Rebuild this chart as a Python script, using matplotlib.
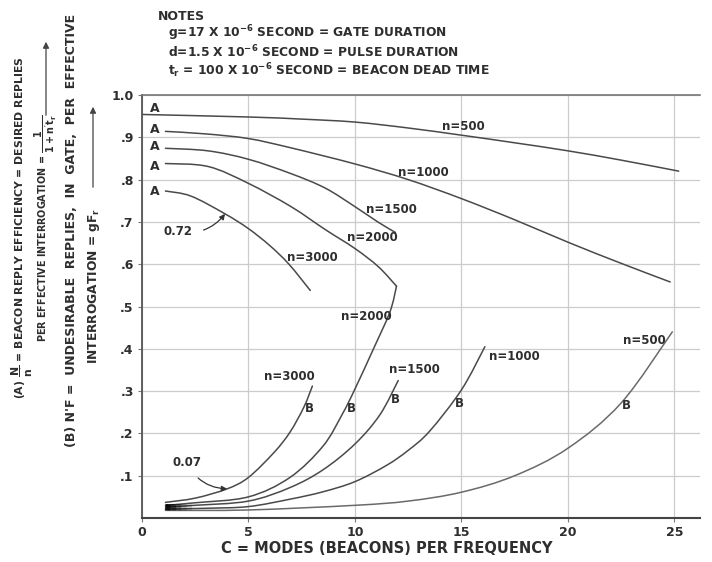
import numpy as np
import matplotlib
matplotlib.use("Agg")
import matplotlib.pyplot as plt
from matplotlib.path import Path
from matplotlib.patches import PathPatch, FancyArrowPatch

plt.rcParams['font.family'] = ['DejaVu Sans']
plt.rcParams['mathtext.fontset'] = 'custom'
plt.rcParams['mathtext.rm'] = 'DejaVu Sans:bold'
plt.rcParams['mathtext.it'] = 'DejaVu Sans:bold'
plt.rcParams['mathtext.bf'] = 'DejaVu Sans:bold'
plt.rcParams['mathtext.sf'] = 'DejaVu Sans:bold'

# ---------------- data ----------------
# (A) beacon reply efficiency curves
a500_x = [0.0, 5.0, 7.5, 10.0, 12.5, 15.0, 17.5, 20.0, 22.5, 25.2]
a500_y = [0.954, 0.948, 0.943, 0.936, 0.922, 0.905, 0.887, 0.868, 0.846, 0.820]
a1000_x = [1.1, 3.0, 5.0, 7.0, 10.0, 12.5, 15.0, 17.5, 20.0, 22.5, 24.8]
a1000_y = [0.914, 0.908, 0.897, 0.875, 0.837, 0.800, 0.755, 0.705, 0.652, 0.602, 0.558]
a1500_x = [1.1, 3.1, 5.0, 7.0, 8.6, 10.0, 11.1, 11.9]
a1500_y = [0.874, 0.868, 0.848, 0.814, 0.780, 0.736, 0.699, 0.675]
a2000_x = [1.1, 3.1, 5.0, 7.0, 8.6, 10.0, 11.1, 11.95]
a2000_y = [0.838, 0.831, 0.791, 0.736, 0.682, 0.637, 0.594, 0.548]
a3000_x = [1.1, 2.3, 3.9, 5.0, 6.0, 6.9, 7.9]
a3000_y = [0.773, 0.761, 0.719, 0.684, 0.644, 0.600, 0.538]

# (B) undesirable replies curves
b500_x = [1.1, 5.0, 10.0, 12.5, 15.0, 17.5, 20.0, 22.5, 24.9]
b500_y = [0.018, 0.019, 0.030, 0.040, 0.061, 0.100, 0.165, 0.272, 0.440]
b1000_x = [1.1, 3.0, 5.0, 7.0, 8.5, 10.0, 11.5, 12.5, 13.5, 15.0, 16.1]
b1000_y = [0.021, 0.023, 0.027, 0.045, 0.062, 0.086, 0.125, 0.160, 0.205, 0.303, 0.405]
b1500_x = [1.1, 2.5, 5.0, 6.95, 8.5, 10.0, 11.17, 12.03]
b1500_y = [0.026, 0.030, 0.040, 0.072, 0.114, 0.175, 0.244, 0.325]
b2000_x = [1.1, 2.5, 5.0, 6.95, 8.5, 9.4, 10.0, 10.86, 11.64, 11.95]
b2000_y = [0.030, 0.036, 0.050, 0.096, 0.170, 0.245, 0.305, 0.399, 0.487, 0.548]
b3000_x = [1.1, 2.5, 4.0, 5.0, 6.2, 6.95, 7.6, 8.0]
b3000_y = [0.037, 0.047, 0.069, 0.096, 0.155, 0.203, 0.262, 0.312]

x_ticks = [0, 5, 10, 15, 20, 25]
x_tick_labels = ["0", "5", "10", "15", "20", "25"]
y_ticks = [0.1, 0.2, 0.3, 0.4, 0.5, 0.6, 0.7, 0.8, 0.9, 1.0]
y_tick_labels = [".1", ".2", ".3", ".4", ".5", ".6", ".7", ".8", ".9", "1.0"]

a_labels = ["n=500", "n=1000", "n=1500", "n=2000", "n=3000"]
a_label_x = [15.1, 13.2, 11.7, 10.8, 8.0]
a_label_y = [0.925, 0.817, 0.730, 0.664, 0.617]
a_letter_y = [0.969, 0.918, 0.879, 0.831, 0.771]

b_labels = ["n=3000", "n=2000", "n=1500", "n=1000", "n=500"]
b_label_x = [6.9, 10.55, 12.8, 17.5, 23.6]
b_label_y = [0.334, 0.476, 0.350, 0.381, 0.419]
b_letter_x = [7.86, 9.84, 11.9, 14.9, 22.75]
b_letter_y = [0.258, 0.258, 0.280, 0.270, 0.265]

notes = ["NOTES",
         r"g=17 X 10$^{-6}$ SECOND = GATE DURATION",
         r"d=1.5 X 10$^{-6}$ SECOND = PULSE DURATION",
         r"$t_r$ = 100 X 10$^{-6}$ SECOND = BEACON DEAD TIME"]

# ---------------- figure ----------------
W, H = 712, 562
fig = plt.figure(figsize=(W / 100, H / 100), dpi=100)
fig.patch.set_facecolor("white")
ax = fig.add_axes([142 / W, 44 / H, 558 / W, 423 / H])
ax.set_xlim(0, 26.2)
ax.set_ylim(0, 1.0)

TXT = "#2e2e2e"
LINE = "#4a4a4a"
BOLD = dict(fontweight="bold", color=TXT)

ax.set_xticks(x_ticks)
ax.set_xticklabels(x_tick_labels, fontsize=9, **BOLD)
ax.set_yticks(y_ticks)
ax.set_yticklabels(y_tick_labels, fontsize=9, **BOLD)
ax.tick_params(axis="both", length=3, width=0.8, color="#777777", pad=3)
ax.grid(True, color="#cccccc", lw=0.9)
ax.set_axisbelow(True)
ax.spines["right"].set_visible(False)
ax.spines["top"].set_color("#777777")
ax.spines["top"].set_linewidth(1.2)
ax.spines["left"].set_color("#555555")
ax.spines["left"].set_linewidth(1.3)
ax.spines["bottom"].set_color("#444444")
ax.spines["bottom"].set_linewidth(1.5)


def smooth_curve(xs, ys, color, lw=1.1):
    """Draw a smooth (Catmull-Rom / Bezier) curve through the data points."""
    P = np.column_stack([xs, ys]).astype(float)
    n = len(P)
    verts = [P[0]]
    codes = [Path.MOVETO]
    for i in range(n - 1):
        p0 = P[i - 1] if i > 0 else P[i]
        p1, p2 = P[i], P[i + 1]
        p3 = P[i + 2] if i + 2 < n else P[i + 1]
        verts += [p1 + (p2 - p0) / 6.0, p2 - (p3 - p1) / 6.0, p2]
        codes += [Path.CURVE4] * 3
    ax.add_patch(PathPatch(Path(verts, codes), fill=False, edgecolor=color, lw=lw,
                           capstyle="round", joinstyle="round"))


a_curves = [(a500_x, a500_y), (a1000_x, a1000_y), (a1500_x, a1500_y),
            (a2000_x, a2000_y), (a3000_x, a3000_y)]
b_curves = [(b500_x, b500_y), (b1000_x, b1000_y), (b1500_x, b1500_y),
            (b2000_x, b2000_y), (b3000_x, b3000_y)]
for xs, ys in a_curves:
    smooth_curve(xs, ys, LINE)
for i, (xs, ys) in enumerate(b_curves):
    smooth_curve(xs, ys, "#6a6a6a" if i == 0 else LINE)

# dark smudge where the B curves converge
for k, alpha in enumerate([0.9, 0.7, 0.5, 0.3, 0.15]):
    x0 = b2000_x[0] + k * 0.25
    ax.plot([x0, x0 + 0.25], [0.026, 0.025], color="black", lw=4.5, alpha=alpha,
            solid_capstyle="butt")

for lab, lx, ly in zip(a_labels, a_label_x, a_label_y):
    ax.text(lx, ly, lab, fontsize=8.5, ha="center", va="center", **BOLD)
for ly in a_letter_y:
    ax.text(0.6, ly, "A", fontsize=9, ha="center", va="center", **BOLD)
for lab, lx, ly in zip(b_labels, b_label_x, b_label_y):
    ax.text(lx, ly, lab, fontsize=8.5, ha="center", va="center", **BOLD)
for lx, ly in zip(b_letter_x, b_letter_y):
    ax.text(lx, ly, "B", fontsize=8.5, ha="center", va="center", **BOLD)

ax.annotate("0.07", xy=(b3000_x[2], b3000_y[2]), xytext=(2.1, 0.131),
            fontsize=8.5, ha="center", va="center", **BOLD,
            arrowprops=dict(arrowstyle="-|>", color="#333333", lw=0.9,
                            connectionstyle="arc3,rad=0.3", shrinkA=6, shrinkB=0,
                            mutation_scale=8))
ax.annotate("0.72", xy=(a3000_x[2], a3000_y[2]), xytext=(1.7, 0.677),
            fontsize=8.5, ha="center", va="center", **BOLD,
            arrowprops=dict(arrowstyle="-|>", color="#333333", lw=0.9,
                            connectionstyle="arc3,rad=0.3", shrinkA=6, shrinkB=0,
                            mutation_scale=8))

ax.set_xlabel("C = MODES (BEACONS) PER FREQUENCY", fontsize=10.5, **BOLD)
ax.xaxis.set_label_coords((387 - 142) / 558, -(541 - 518) / 423)


def fx(px):
    return px / W


def fy(py):
    return 1 - py / H


# y-axis descriptive labels (rotated)
fig.text(fx(22), fy(228), r"(A) $\dfrac{N}{n'}$ = BEACON REPLY EFFICIENCY = DESIRED REPLIES",
         rotation=90, fontsize=7.8, ha="center", va="center", **BOLD)
fig.text(fx(46), fy(228), r"PER EFFECTIVE INTERROGATION = $\dfrac{1}{1+n't_r}$",
         rotation=90, fontsize=6.9, ha="center", va="center", **BOLD)
fig.text(fx(72), fy(230), "(B) N'F =  UNDESIRABLE  REPLIES,  IN  GATE,  PER  EFFECTIVE",
         rotation=90, fontsize=9, ha="center", va="center", **BOLD)
fig.text(fx(94), fy(286), r"INTERROGATION = $gF_r$",
         rotation=90, fontsize=8.8, ha="center", va="center", **BOLD)
fig.add_artist(FancyArrowPatch(
    (fx(46), fy(118)), (fx(46), fy(39)), transform=fig.transFigure,
    arrowstyle="-|>", mutation_scale=9, color="#444444", lw=0.9))
fig.add_artist(FancyArrowPatch(
    (fx(93), fy(190)), (fx(93), fy(104)), transform=fig.transFigure,
    arrowstyle="-|>", mutation_scale=9, color="#444444", lw=0.9))

# notes
fig.text(fx(158), fy(17), notes[0], fontsize=9, ha="left", va="center", **BOLD)
for txt, py in zip(notes[1:], [33, 52, 71]):
    fig.text(fx(168), fy(py), txt, fontsize=8.8, ha="left", va="center", **BOLD)

fig.savefig("out.png", dpi=100, facecolor="white")
